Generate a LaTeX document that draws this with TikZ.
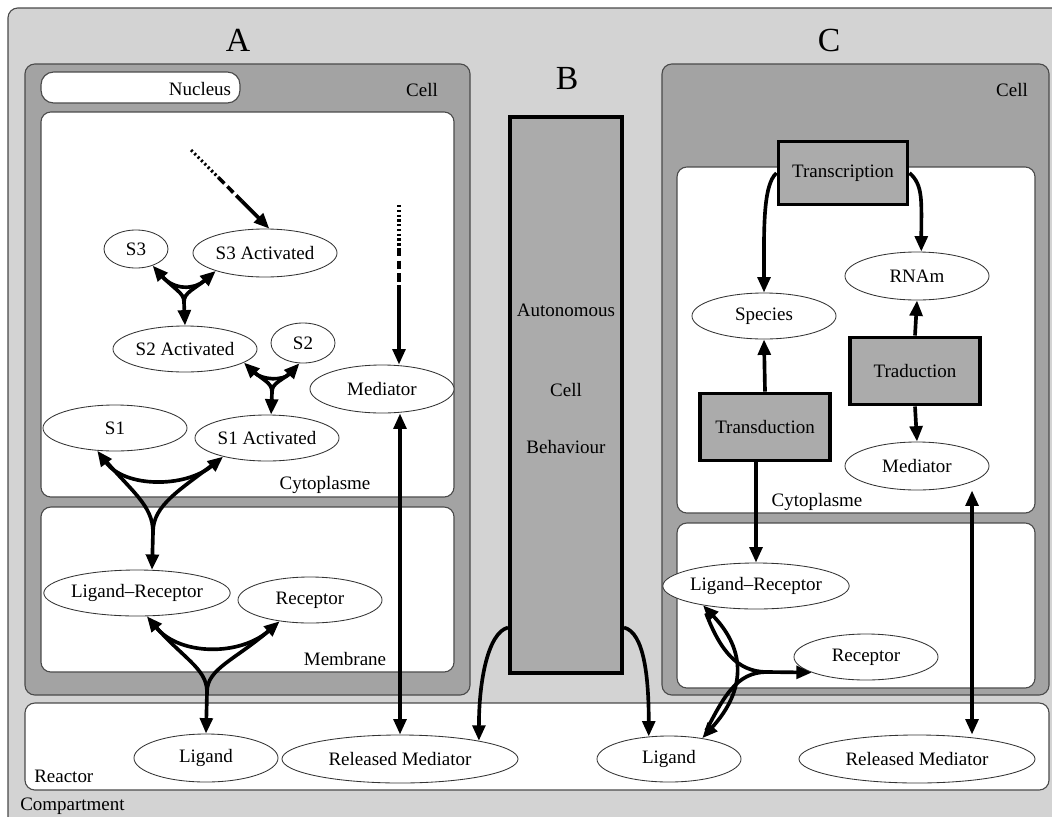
\documentclass[tikz,border=0pt]{standalone}
\usepackage{fontspec}
\setmainfont{Liberation Serif}
\usetikzlibrary{arrows.meta,shapes.geometric,calc}

\definecolor{compgray}{HTML}{D3D3D3}
\definecolor{cellgray}{HTML}{A3A3A3}
\definecolor{procgray}{HTML}{ABABAB}
\definecolor{edgegray}{HTML}{4A4A4A}

\tikzset{
  >={Triangle[length=11pt,width=9pt]},
  comp/.style={draw=edgegray, line width=0.8pt, rounded corners=7pt},
  species/.style={ellipse, draw=black!80, line width=0.6pt, fill=white, inner sep=0pt,
    minimum width=3.6cm, minimum height=1.15cm},
  proc/.style={draw=black, line width=2.8pt, fill=procgray, inner sep=0pt},
  flow/.style={line width=2.6pt, ->},
  reac/.style={line width=2.6pt},
  side/.style={reac, shorten <=6pt},
  hdr/.style={font=\fontsize{24}{28}\selectfont},
}

\begin{document}
\begin{tikzpicture}[x=0.025cm, y=-0.025cm, font=\fontsize{13.5}{16}\selectfont]
\useasboundingbox (0,0) rectangle (1052,816);
\clip (0,0) rectangle (1052,816);

% compartments
\draw[comp, fill=compgray] (8,8) rectangle (1080,840);
\draw[comp, fill=cellgray] (25,64) rectangle (470,695);
\draw[comp, fill=white, rounded corners=9pt] (41,72) rectangle (240,103);
\draw[comp, fill=white] (41,112) rectangle (454,497);
\draw[comp, fill=white] (41,507) rectangle (454,672);
\draw[comp, fill=cellgray] (662,64) rectangle (1049,695);
\draw[comp, fill=white] (677,167) rectangle (1035,513);
\draw[comp, fill=white] (677,523) rectangle (1035,688);
\draw[comp, fill=white] (25,703) rectangle (1049,790);

% labels
\node[hdr] (hA) at (238,40) {A};
\node[hdr] (hB) at (567,78) {B};
\node[hdr] (hC) at (829,40) {C};
\node (lnuc) at (200,89) {Nucleus};
\node (lcellA) at (422,90) {Cell};
\node (lcytA) at (325,485) {Cytoplasme};
\node (lmemA) at (345,659) {Membrane};
\node (lcellC) at (1012,90) {Cell};
\node (lcytC) at (817,502) {Cytoplasme};
\node[anchor=west, inner sep=0pt] (lreac) at (34,776) {Reactor};
\node[anchor=west, inner sep=0pt] (lcomp) at (20,806) {Compartment};

% A: species
\node[species, minimum width=1.6cm, minimum height=0.95cm] (s3) at (136,249) {S3};
\node[species, minimum height=1.2cm] (s3a) at (265,253) {S3 Activated};
\node[species] (s2a) at (185,349) {S2 Activated};
\node[species, minimum width=1.6cm, minimum height=1cm] (s2) at (303,343) {S2};
\node[species, minimum height=1.2cm] (medA) at (382,389) {Mediator};
\node[species] (s1) at (115,428) {S1};
\node[species] (s1a) at (267,438) {S1 Activated};
\node[species] (lrA) at (137,593) {Ligand--Receptor};
\node[species] (recA) at (310,600) {Receptor};
\node[species, minimum height=1.2cm] (ligA) at (206,758) {Ligand};
\node[species, minimum width=5.9cm, minimum height=1.2cm] (relA) at (400,759) {Released Mediator};

% B
\node[proc, minimum width=2.8cm, minimum height=13.875cm] (beh) at (566,395) {};
\node (bt1) at (566,310) {Autonomous};
\node (bt2) at (566,390) {Cell};
\node (bt3) at (566,447) {Behaviour};

% C
\node[proc, minimum width=3.225cm, minimum height=1.575cm] (trs) at (843,173) {Transcription};
\node[species, minimum height=1.2cm] (rna) at (917,276) {RNAm};
\node[species] (spc) at (764,316) {Species};
\node[proc, minimum width=3.25cm, minimum height=1.675cm] (tra) at (915,371) {Traduction};
\node[proc, minimum width=3.25cm, minimum height=1.675cm] (tdc) at (765,427) {Transduction};
\node[species, minimum height=1.2cm] (medC) at (917,466) {Mediator};
\node[species] (lrC) at (756,586) {Ligand--Receptor};
\node[species] (recC) at (866,657) {Receptor};
\node[species] (ligC) at (669,759) {Ligand};
\node[species, minimum width=5.9cm, minimum height=1.2cm] (relC) at (917,759) {Released Mediator};

% incoming signals
\coordinate (sigS) at (191,150);
\coordinate (sigM) at (399,205);
\draw[reac, line width=2.2pt, dash pattern=on 1.6pt off 1.8pt] (sigS) -- ($(sigS)!0.35!(s3a.80)$) coordinate (sigS1);
\draw[reac, dash pattern=on 6pt off 3pt] (sigS1) -- ($(sigS)!0.65!(s3a.80)$) coordinate (sigS2);
\draw[flow] (sigS2) -- (s3a.80);
\draw[reac, line width=2.2pt, dash pattern=on 1.6pt off 1.8pt] (sigM) -- ++(0,43) coordinate (sigM1);
\draw[reac, dash pattern=on 6pt off 3pt] (sigM1) -- ++(0,37) coordinate (sigM2);
\draw[flow] (sigM2) -- (sigM2 |- medA.north);

% A: reactions
\coordinate (j1) at (184,302);
\draw[reac, <->] (s3.-45) .. controls (174,290) and (194,290) .. (s3a.-160);
\draw[side] (s3.-45) .. controls (174,290) and (184,292) .. (j1);
\draw[side] (s3a.-160) .. controls (194,290) and (184,292) .. (j1);
\draw[flow] (j1) -- (s2a.north);

\coordinate (j2) at (272,392);
\draw[reac, <->] (s2a.-13) .. controls (262,380) and (283,381) .. (s2.-100);
\draw[side] (s2a.-13) .. controls (262,380) and (272,382) .. (j2);
\draw[side] (s2.-100) .. controls (283,381) and (272,382) .. (j2);
\draw[flow] (j2) -- (s1a.80);

\coordinate (j3) at (153,532);
\draw[reac, <->] (s1.-128) .. controls (125,488) and (185,488) .. (s1a.-157);
\draw[side] (s1.-128) .. controls (130,490) and (153,505) .. (j3);
\draw[side] (s1a.-157) .. controls (180,490) and (153,505) .. (j3);
\draw[flow] (j3) -- (lrA.57);

\coordinate (j4) at (207,692);
\draw[reac, <->] (lrA.-67) .. controls (180,656) and (240,656) .. (recA.-145);
\draw[side] (lrA.-67) .. controls (182,658) and (207,668) .. (j4);
\draw[side] (recA.-145) .. controls (236,660) and (207,668) .. (j4);
\draw[flow] (j4) -- (ligA.north);

\draw[flow, <->] (medA.south -| relA.north) -- (relA.north);

% B: outputs
\draw[flow] ([yshift=1.175cm]beh.south west) .. controls +(-20,5) and +(0,-60) .. (relA.13);
\draw[flow] ([yshift=1.175cm]beh.south east) .. controls +(20,5) and +(0,-60) .. (ligC.132);

% C: gene expression
\draw[flow] (trs.west) .. controls +(-14,12) and +(0,-60) .. (spc.north);
\draw[flow] (trs.east) .. controls +(14,12) and +(0,-50) .. (rna.80);
\draw[flow] (tdc.north) -- (spc.south);
\draw[flow] (tra.north) -- (rna.south);
\draw[flow] (tra.south) -- (medC.north);
\draw[flow] (tdc.south -| lrC.north) -- (lrC.north);

\coordinate (jc) at (767,672);
\draw[reac, <->] (lrC.-160) .. controls (746,650) and (746,690) .. (ligC.32);
\draw[side] (lrC.-160) .. controls (720,650) and (737,672) .. (jc);
\draw[side] (ligC.32) .. controls (724,696) and (737,672) .. (jc);
\draw[flow] (jc) -- (recC.-164);

\draw[flow, <->] ([xshift=1.375cm]medC.south) -- ([xshift=1.375cm]relC.north);
\end{tikzpicture}
\end{document}
